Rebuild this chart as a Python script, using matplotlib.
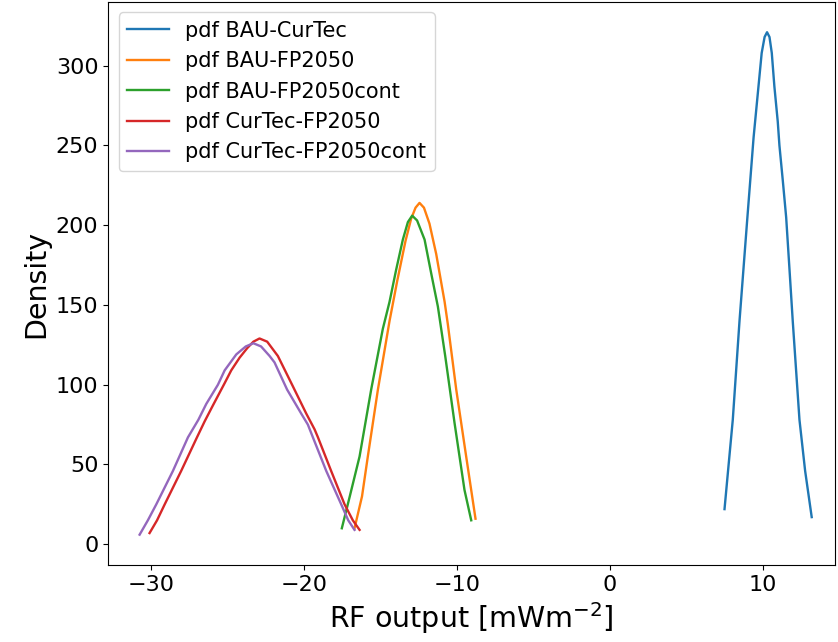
import matplotlib
matplotlib.use('Agg')
import matplotlib.pyplot as plt

# values (x in mWm-2, y density)
x_bau_curtec = [7.5, 7.75, 8.04, 8.48, 8.98, 9.4, 9.72, 9.93, 10.12, 10.28, 10.44, 10.59, 10.76, 10.98, 11.09,
                11.31, 11.53, 11.75, 11.96, 12.40, 12.77, 13.2]
y_bau_curtec = [22, 48, 78, 140, 203, 255, 287, 308, 318, 321, 318, 308, 287, 265, 250, 228, 205, 172, 140,
                78, 46, 17]

x_bau_fp = [-16.69, -16.2, -15.82, -15.16, -14.40, -13.9, -13.36, -12.99, -12.7, -12.44, -12.15, -11.79,
            -11.35, -10.8, -10.59, -10.04, -9.39, -8.78]
y_bau_fp = [10, 30, 55, 97, 140, 165, 190, 204, 211, 214, 211, 201, 182, 152, 138, 97, 55, 16]

x_bau_fpc = [-17.52, -17.0, -16.36, -15.60, -14.84, -14.4, -13.97, -13.53, -13.2, -12.92, -12.6, -12.11,
             -11.68, -11.24, -10.76, -10.15, -9.5, -9.06]
y_bau_fpc = [10, 30, 55, 97, 135, 152, 172, 191, 202, 206, 203, 191, 170, 149, 118, 76, 34, 15]

x_cur_fp = [-30.09, -29.6, -29.1, -28.02, -27.04, -26.49, -25.95, -25.18, -24.75, -24.2, -23.7, -23.3, -22.9,
            -22.4, -21.7, -20.72, -19.85, -19.3, -19.08, -18.22, -17.34, -16.8, -16.36]
y_cur_fp = [7, 15, 25, 46, 66, 77, 87, 101, 109, 117, 123, 127, 129, 127, 118, 99, 82, 72, 67, 46, 25, 15, 9]

x_cur_fpc = [-30.74, -30.2, -29.65, -28.56, -27.58, -26.9, -26.38, -25.62, -25.18, -24.42, -23.8, -23.3,
             -22.8, -22.24, -21.92, -21.1, -20.18, -19.74, -19.41, -18.54, -17.56, -17.1, -16.69]
y_cur_fpc = [6, 15, 25, 46, 67, 78, 88, 100, 109, 119, 124, 126, 124, 118, 114, 97, 82, 75, 67, 46, 25, 15, 9]

fig = plt.figure(figsize=(8.38, 6.42), dpi=100)
ax = fig.add_axes([0.129, 0.12, 0.867, 0.877])

ax.plot(x_bau_curtec, y_bau_curtec, color='tab:blue', lw=1.7, label='pdf BAU-CurTec')
ax.plot(x_bau_fp, y_bau_fp, color='tab:orange', lw=1.7, label='pdf BAU-FP2050')
ax.plot(x_bau_fpc, y_bau_fpc, color='tab:green', lw=1.7, label='pdf BAU-FP2050cont')
ax.plot(x_cur_fp, y_cur_fp, color='tab:red', lw=1.7, label='pdf CurTec-FP2050')
ax.plot(x_cur_fpc, y_cur_fpc, color='tab:purple', lw=1.7, label='pdf CurTec-FP2050cont')

ax.set_xlim(-32.8, 14.7)
ax.set_ylim(-13, 340)
ax.tick_params(labelsize=16)
ax.set_xlabel('RF output [mWm$^{-2}$]', fontsize=20.5)
ax.set_ylabel('Density', fontsize=20.5)
ax.legend(loc='upper left', fontsize=15)

fig.savefig('out.png', dpi=100)
